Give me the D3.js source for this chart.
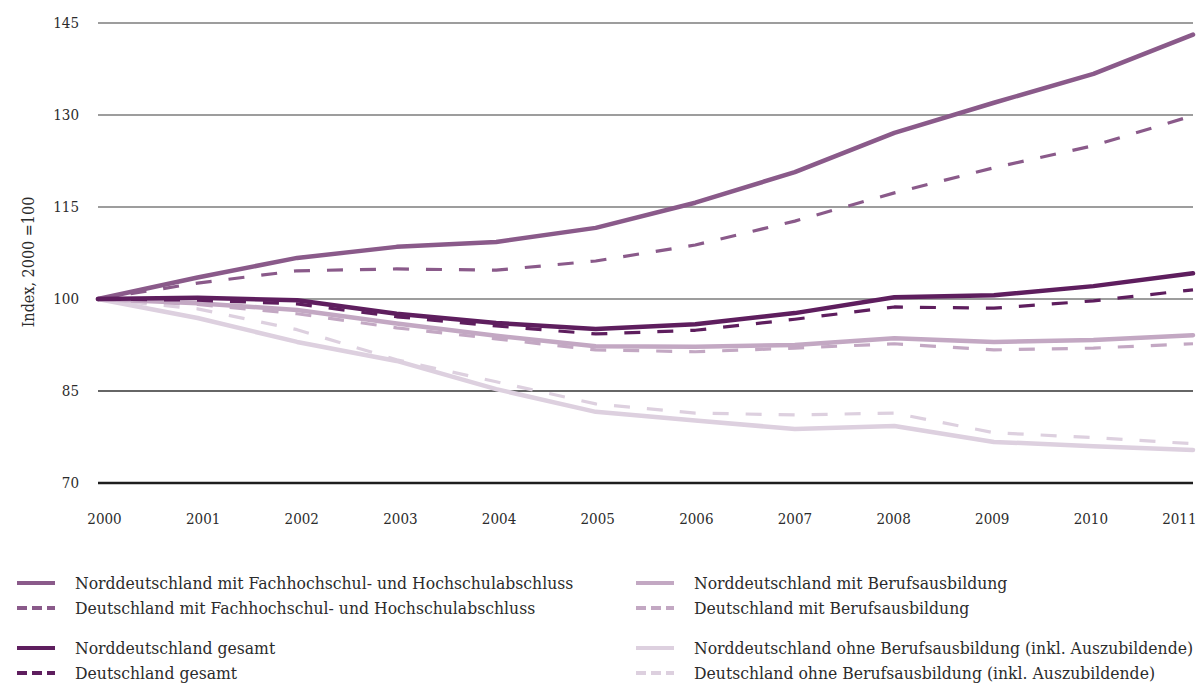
<!DOCTYPE html>
<html>
<head>
<meta charset="utf-8">
<script src="https://cdn.jsdelivr.net/npm/d3@7"></script>
<style>
  html, body { margin: 0; padding: 0; background: #fff; }
  svg { display: block; }
  text { font-family: "DejaVu Serif Condensed", "DejaVu Serif", serif; fill: #2b2b2b; }
</style>
</head>
<body>
<svg id="chart" width="1197" height="684"></svg>
<script>
// Years on the x axis
const years = [2000, 2001, 2002, 2003, 2004, 2005, 2006, 2007, 2008, 2009, 2010, 2011];

// Y axis ticks (index, 2000 = 100)
const yTicks = [70, 85, 100, 115, 130, 145];

// Employment index series
const nordHochschule = [100, 103.5, 106.7, 108.5, 109.3, 111.6, 115.7, 120.7, 127.1, 132.0, 136.7, 143.1];
const deHochschule   = [100, 102.6, 104.6, 104.9, 104.7, 106.2, 108.8, 112.7, 117.3, 121.4, 125.0, 129.9];
const nordGesamt     = [100, 100.2, 99.8, 97.6, 96.1, 95.1, 95.9, 97.7, 100.3, 100.6, 102.1, 104.2];
const deGesamt       = [100, 99.8, 99.2, 97.1, 95.6, 94.3, 94.9, 96.7, 98.7, 98.5, 99.7, 101.5];
const nordBeruf      = [100, 99.3, 98.2, 96.0, 94.0, 92.3, 92.2, 92.5, 93.6, 93.0, 93.3, 94.1];
const deBeruf        = [100, 99.1, 97.6, 95.3, 93.5, 91.7, 91.4, 92.0, 92.7, 91.7, 92.0, 92.7];
const nordOhne       = [100, 96.9, 93.0, 89.9, 85.3, 81.6, 80.2, 78.8, 79.3, 76.7, 76.0, 75.4];
const deOhne         = [100, 98.4, 95.0, 90.1, 86.5, 82.9, 81.4, 81.1, 81.4, 78.2, 77.4, 76.4];

// Legend labels
const seriesNames = [
  "Norddeutschland mit Fachhochschul- und Hochschulabschluss",
  "Deutschland mit Fachhochschul- und Hochschulabschluss",
  "Norddeutschland gesamt",
  "Deutschland gesamt",
  "Norddeutschland mit Berufsausbildung",
  "Deutschland mit Berufsausbildung",
  "Norddeutschland ohne Berufsausbildung (inkl. Auszubildende)",
  "Deutschland ohne Berufsausbildung (inkl. Auszubildende)"
];
const yTitle = "Index, 2000 =100";

const colHoch = "#8a5a8a", colGes = "#5e1e5e", colBeruf = "#c3a8c3", colOhne = "#ddd0df";

// Drawing order: lightest series first, darkest on top
const series = [
  { name: seriesNames[6], values: nordOhne, color: colOhne, dashed: false },
  { name: seriesNames[7], values: deOhne, color: colOhne, dashed: true },
  { name: seriesNames[4], values: nordBeruf, color: colBeruf, dashed: false },
  { name: seriesNames[5], values: deBeruf, color: colBeruf, dashed: true },
  { name: seriesNames[1], values: deHochschule, color: colHoch, dashed: true },
  { name: seriesNames[0], values: nordHochschule, color: colHoch, dashed: false },
  { name: seriesNames[3], values: deGesamt, color: colGes, dashed: true },
  { name: seriesNames[2], values: nordGesamt, color: colGes, dashed: false }
];

const svg = d3.select("#chart");

const x = d3.scaleLinear().domain([2000, 2011]).range([98, 1193]);
const xLabel = d3.scaleLinear().domain([2000, 2011]).range([104, 1189]);
const y = d3.scaleLinear().domain([70, 145]).range([483, 23]);

// Horizontal grid lines
const gridStyle = v => v === 70 ? { c: "#1e1e1e", w: 2.4 } : v === 85 ? { c: "#333", w: 1.3 } : { c: "#7d7d7d", w: 1.4 };
svg.append("g").selectAll("line").data(yTicks).join("line")
  .attr("x1", x(2000)).attr("x2", x(2011))
  .attr("y1", d => y(d)).attr("y2", d => y(d))
  .attr("stroke", d => gridStyle(d).c)
  .attr("stroke-width", d => gridStyle(d).w);

// Y axis labels
const yAxis = d3.axisLeft(y).tickValues(yTicks).tickSize(0).tickPadding(0);
const gy = svg.append("g").attr("transform", "translate(79,0)").call(yAxis);
gy.select(".domain").remove();
gy.selectAll("text").attr("font-size", 15).attr("dy", "0.3em")
  .style("font-family", '"DejaVu Serif Condensed", serif').attr("fill", "#2b2b2b");

// X axis labels; the last one is right-aligned to stay inside the page
const xAxis = d3.axisBottom(xLabel).tickValues(years).tickFormat(d3.format("d")).tickSize(0).tickPadding(0);
const gx = svg.append("g").attr("transform", "translate(0,513)").call(xAxis);
gx.select(".domain").remove();
gx.selectAll("text").attr("font-size", 15).attr("dy", "0.7em")
  .style("font-family", '"DejaVu Serif Condensed", serif').attr("fill", "#2b2b2b");
gx.selectAll(".tick").filter(d => d === 2011).select("text")
  .attr("text-anchor", "end").attr("x", 1196 - xLabel(2011));

// Y axis title
svg.append("text")
  .attr("transform", "translate(34,262) rotate(-90)")
  .attr("text-anchor", "middle")
  .attr("font-size", 16)
  .text(yTitle);

// Lines
const line = d3.line().x((d, i) => x(years[i])).y(d => y(d)).curve(d3.curveLinear);
svg.append("g").selectAll("path").data(series).join("path")
  .attr("d", d => line(d.values))
  .attr("fill", "none")
  .attr("stroke", d => d.color)
  .attr("stroke-width", d => d.dashed ? 3.2 : 4.5)
  .attr("stroke-dasharray", d => d.dashed ? "16,17" : null)
  .attr("stroke-linejoin", "round")
  .attr("stroke-linecap", d => d.dashed ? "butt" : "round");

// Legend
const legendItems = [
  { name: seriesNames[0], color: colHoch, dashed: false, col: 0, row: 0 },
  { name: seriesNames[1], color: colHoch, dashed: true, col: 0, row: 1 },
  { name: seriesNames[2], color: colGes, dashed: false, col: 0, row: 2 },
  { name: seriesNames[3], color: colGes, dashed: true, col: 0, row: 3 },
  { name: seriesNames[4], color: colBeruf, dashed: false, col: 1, row: 0 },
  { name: seriesNames[5], color: colBeruf, dashed: true, col: 1, row: 1 },
  { name: seriesNames[6], color: colOhne, dashed: false, col: 1, row: 2 },
  { name: seriesNames[7], color: colOhne, dashed: true, col: 1, row: 3 }
];
const colX = [17, 636];
const rowY = [583, 608, 648, 673];
const lg = svg.append("g").selectAll("g").data(legendItems).join("g")
  .attr("transform", d => `translate(${colX[d.col]},${rowY[d.row]})`);
lg.append("line")
  .attr("x1", 0).attr("x2", 38).attr("y1", 0).attr("y2", 0)
  .attr("stroke", d => d.color).attr("stroke-width", 4)
  .attr("stroke-dasharray", d => d.dashed ? "10,5" : null);
lg.append("text")
  .attr("x", 58).attr("y", 0).attr("dy", "0.35em")
  .attr("font-size", 17.4)
  .text(d => d.name);
</script>
</body>
</html>
